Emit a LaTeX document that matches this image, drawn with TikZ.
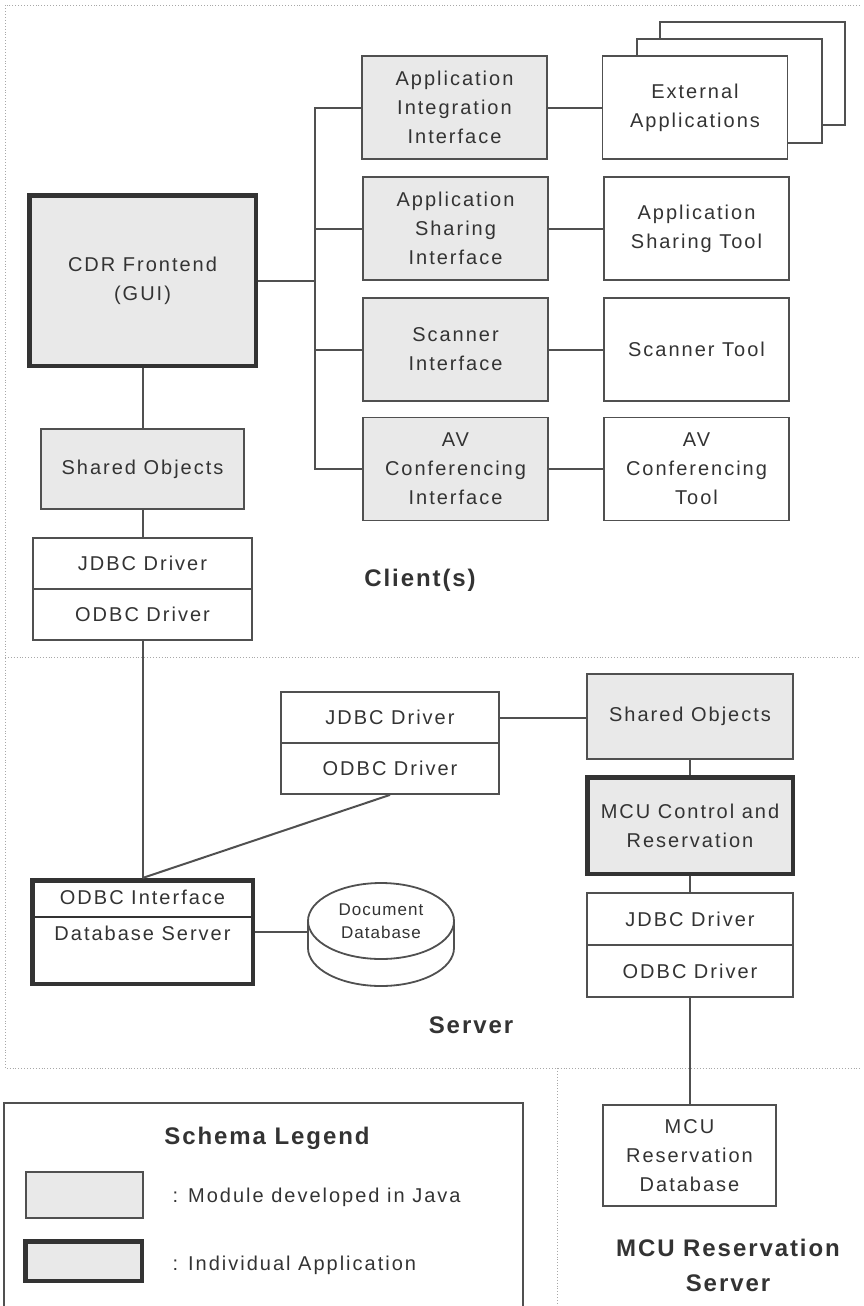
\documentclass[tikz,border=0pt]{standalone}
\usepackage{fontspec}
\setmainfont{Liberation Sans}[LetterSpace=10, BoldFeatures={LetterSpace=8}]
\usetikzlibrary{calc}

\definecolor{inkgray}{HTML}{333333}
\definecolor{edgegray}{HTML}{505050}
\definecolor{javagray}{HTML}{E9E9E9}
\definecolor{dotgray}{HTML}{A8A8A8}

\newcommand{\boxfont}{\fontsize{20}{29}\selectfont}
\newcommand{\dbfont}{\fontsize{17}{23}\selectfont\addfontfeatures{LetterSpace=6}}
\newcommand{\zonefont}{\fontsize{24}{35}\selectfont\bfseries}

\begin{document}
\begin{tikzpicture}[x=1pt, y=-1pt,
  box/.style={draw=edgegray, line width=1.8pt, fill=white, text=inkgray,
    font=\boxfont, align=center, inner sep=0pt,
    minimum width=185pt, minimum height=103pt},
  javabox/.style={box, fill=javagray},
  appbox/.style={box, fill=javagray, draw=inkgray, line width=4.5pt},
  drvbox/.style={box, minimum height=51pt},
  wire/.style={draw=edgegray, line width=2pt},
  zone/.style={draw=dotgray, dotted, line width=0.9pt},
  zonelabel/.style={text=inkgray, font=\zonefont, align=center}]
  \clip (0,0) rectangle (863,1306);

  % dotted frame of the three zones
  \draw[zone] (860,5) -- (5,5) -- (5,1068) -- (860,1068);
  \draw[zone] (5,657) -- (860,657);
  \draw[zone] (557,1068) -- (557,1306);

  % client(s)
  \node[appbox, minimum width=226.5pt, minimum height=170.5pt] (front) at (142.5,280.5) {CDR Frontend\\(GUI)};
  \node[javabox] (aii) at (454.5,107.5) {Application\\Integration\\Interface};
  \node[javabox] (asi) at (455.5,228.5) {Application\\Sharing\\Interface};
  \node[javabox] (sci) at (455.5,349.5) {Scanner\\Interface};
  \node[javabox] (avi) at (455.5,469) {AV\\Conferencing\\Interface};

  % external applications, stacked
  \draw[edgegray, line width=1.8pt, fill=white] (660,22) rectangle (845,125);
  \draw[edgegray, line width=1.8pt, fill=white] (637,39) rectangle (822,143);
  \node[box] (ext) at (695,107.5) {External\\Applications};
  \node[box] (ast) at (696.5,228.5) {Application\\Sharing Tool};
  \node[box] (sct) at (696.5,349.5) {Scanner Tool};
  \node[box] (avt) at (696.5,469) {AV\\Conferencing\\Tool};

  \node[javabox, minimum width=203pt, minimum height=80pt] (cshared) at (142.5,469) {Shared Objects};
  \node[drvbox, minimum width=219pt] (cjdbc) at (142.5,563.5) {JDBC Driver};
  \node[drvbox, minimum width=219pt] (codbc) at (142.5,614.5) {ODBC Driver};
  \node[zonelabel] (clientlbl) at (420,580) {Client(s)};

  % server
  \node[drvbox, minimum width=218pt] (sjdbc) at (390,717.5) {JDBC Driver};
  \node[drvbox, minimum width=218pt] (sodbc) at (390,768.5) {ODBC Driver};
  \node[javabox, minimum width=206pt, minimum height=85pt] (sshared) at (690,716.5) {Shared Objects};
  \node[appbox, minimum width=205.5pt, minimum height=96.5pt] (mcu) at (690,825.5) {MCU Control and\\Reservation};
  \node[drvbox, minimum width=206pt, minimum height=52pt] (mjdbc) at (690,919) {JDBC Driver};
  \node[drvbox, minimum width=206pt, minimum height=52pt] (modbc) at (690,971) {ODBC Driver};

  \node[appbox, fill=white, minimum width=220.5pt, minimum height=103.5pt] (dbs) at (142.5,932) {};
  \draw[inkgray, line width=1.6pt] (dbs.west |- 0,917) -- (dbs.east |- 0,917);
  \node[text=inkgray, font=\boxfont] (odbcif) at (142.5,897.5) {ODBC Interface};
  \node[text=inkgray, font=\boxfont] (dbserv) at (142.5,933) {Database Server};

  % document database, a cylinder
  \draw[edgegray, line width=1.8pt, fill=white] (381,948) ellipse[x radius=73, y radius=38];
  \fill[white] (308,921) rectangle (454,948);
  \draw[edgegray, line width=1.8pt] (308,921) -- (308,948) (454,921) -- (454,948);
  \draw[edgegray, line width=1.8pt, fill=white] (381,921) ellipse[x radius=73, y radius=38];
  \node[text=inkgray, font=\dbfont, align=center, minimum width=146pt, inner sep=0pt] (docdb) at (381,921) {Document\\Database};
  \node[zonelabel] (serverlbl) at (471,1025) {Server};

  % MCU reservation server
  \node[box, minimum width=173pt, minimum height=101pt] (mcudb) at (689.5,1155.5) {MCU\\Reservation\\Database};
  \node[zonelabel] (mcusrvlbl) at (728,1265.5) {MCU Reservation\\Server};

  % legend
  \draw[edgegray, line width=1.8pt] (4,1103) rectangle (523,1340);
  \node[zonelabel] (legendlbl) at (267,1138) {Schema Legend};
  \node[javabox, minimum width=117pt, minimum height=46pt] (keyjava) at (84.5,1195) {};
  \node[appbox, minimum width=116.5pt, minimum height=39.5pt] (keyapp) at (83.5,1261) {};
  \node[anchor=west, text=inkgray, font=\boxfont] (keyjavatxt) at (169,1197) {: Module developed in Java};
  \node[anchor=west, text=inkgray, font=\boxfont] (keyapptxt) at (169,1265) {: Individual Application};

  % connectors
  \coordinate (bus) at (315,280.5);
  \draw[wire] (aii.west) -| (bus) |- (avi.west);
  \draw[wire] (front.east) -- (bus);
  \draw[wire] (asi.west) -- (asi.west -| bus);
  \draw[wire] (sci.west) -- (sci.west -| bus);
  \foreach \a/\b in {aii/ext, asi/ast, sci/sct, avi/avt}
    \draw[wire] (\a.east) -- (\b.west);
  \draw[wire] (front) -- (cshared);
  \draw[wire] (cshared) -- (cjdbc);
  \draw[wire] (codbc) -- (dbs);
  \draw[wire] (sodbc.south) -- (dbs.north);
  \draw[wire] (sjdbc.east) -- (sjdbc.east -| sshared.west);
  \draw[wire] (sshared) -- (mcu);
  \draw[wire] (mcu) -- (mjdbc);
  \draw[wire] (modbc.south) -- (modbc.south |- mcudb.north);
  \draw[wire] (dbs.east) -- (dbs.east -| docdb.west);
\end{tikzpicture}
\end{document}
